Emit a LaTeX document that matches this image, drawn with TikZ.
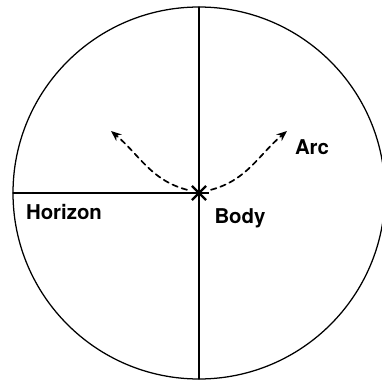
\documentclass[tikz,border=0pt]{standalone}
\usepackage{fontspec}
\setmainfont{TeX Gyre Heros}
\usetikzlibrary{arrows.meta,calc}
\begin{document}
\begin{tikzpicture}[scale=1, font=\fontsize{14.5pt}{17pt}\selectfont\bfseries, line join=round, line cap=round, >={Stealth[length=2.6mm,width=2.1mm]}]
	\useasboundingbox (-4.975,-4.75) rectangle (4.575,4.825);
	\clip (-4.975,-4.75) rectangle (4.575,4.825);
	% Toa do
	\coordinate (O) at (0,0);
	\coordinate (N) at (90:4.65);
	\coordinate (S) at (270:4.65);
	\coordinate (W) at (180:4.65);
	\coordinate (P) at (-2.2,1.55);
	\coordinate (Q) at (2.2,1.55);
	
	% Vong tron, duong chan troi
	\draw[line width=0.9pt] (O) circle (4.65);
	\draw[line width=0.9pt] (N)--(S);
	\draw[line width=0.9pt] (W)--(O);
	
	% Cung chuyen dong
	\draw[line width=1.2pt, dash pattern=on 4pt off 3pt, ->] ($(O)+(-0.3,0.08)$) to[out=165, in=-40] (P);
	\draw[line width=1.2pt, dash pattern=on 4pt off 3pt, ->] ($(O)+(0.3,0.08)$) to[out=15, in=220] (Q);
	
	% Thien the
	\node[inner sep=0pt, minimum size=0.5cm] (body) at (O) {};
	\foreach \ang in {0,45,90,135} {
		\draw[line width=1.6pt, line cap=butt] ($(O)+(\ang:0.25)$)--($(O)+(\ang+180:0.25)$);
	}
	
	% Nhan
	\node (arc) at (2.825,1.15) {Arc};
	\node (horizon) at (-3.375,-0.475) {Horizon};
	\node (bodylbl) at (1.025,-0.625) {Body};
\end{tikzpicture}
\end{document}
